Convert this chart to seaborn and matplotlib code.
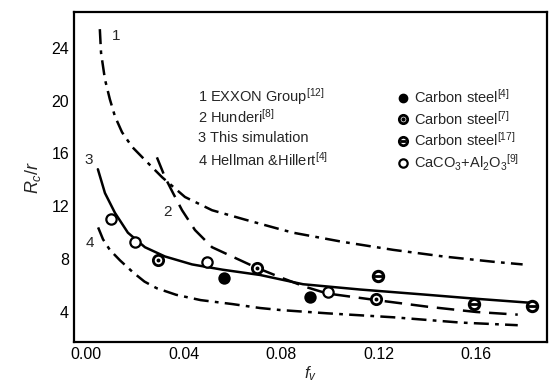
import matplotlib
matplotlib.use("Agg")
import matplotlib.pyplot as plt
import seaborn as sns
import pandas as pd
from matplotlib.lines import Line2D
from matplotlib.legend_handler import HandlerTuple

# ---- data ----
c1_f = [0.0057, 0.0062, 0.0078, 0.0098, 0.0119, 0.0148, 0.0189, 0.0242, 0.0312, 0.0406,
        0.0517, 0.065, 0.0788, 0.0849, 0.1054, 0.126, 0.1465, 0.167, 0.179]
c1_r = [25.4, 23.6, 21.6, 20.1, 18.8, 17.6, 16.5, 15.5, 14.2, 12.7,
        11.7, 11.0, 10.3, 10.0, 9.3, 8.7, 8.2, 7.8, 7.6]

c2_f = [0.0291, 0.0324, 0.0357, 0.0394, 0.0447, 0.0517, 0.0599, 0.0693, 0.080, 0.090,
        0.0989, 0.119, 0.140, 0.160, 0.177]
c2_r = [15.7, 14.2, 13.0, 11.7, 10.2, 8.9, 8.2, 7.4, 6.6, 5.9,
        5.4, 4.9, 4.4, 4.0, 3.8]

c3_f = [0.0049, 0.0078, 0.0119, 0.0172, 0.0242, 0.0324, 0.0435, 0.056, 0.0714, 0.089,
        0.1124, 0.140, 0.160, 0.182]
c3_r = [14.8, 13.0, 11.5, 10.0, 8.9, 8.2, 7.6, 7.2, 6.8, 6.1,
        5.7, 5.3, 5.0, 4.7]

c4_f = [0.005, 0.007, 0.0098, 0.014, 0.0193, 0.024, 0.029, 0.037, 0.047, 0.060, 0.0714,
        0.0796, 0.0989, 0.126, 0.1535, 0.177]
c4_r = [10.4, 9.5, 8.7, 7.9, 7.0, 6.3, 5.8, 5.3, 4.9, 4.6, 4.3,
        4.15, 3.9, 3.6, 3.2, 3.0]

cs4_f = [0.0566, 0.0919]
cs4_r = [6.6, 5.1]
cs7_f = [0.0295, 0.0702, 0.119]
cs7_r = [7.9, 7.3, 5.0]
cs17_f = [0.1198, 0.159, 0.183]
cs17_r = [6.7, 4.6, 4.45]
caco_f = [0.0103, 0.020, 0.0497, 0.0993]
caco_r = [11.0, 9.3, 7.8, 5.5]

curve_labels = ["1 EXXON Group$^{[12]}$", "2 Hunderi$^{[8]}$",
                "3 This simulation", "4 Hellman &Hillert$^{[4]}$"]
point_labels = ["Carbon steel$^{[4]}$", "Carbon steel$^{[7]}$",
                "Carbon steel$^{[17]}$", "CaCO$_3$+Al$_2$O$_3$$^{[9]}$"]
x_ticks = [0.00, 0.04, 0.08, 0.12, 0.16]
y_ticks = [4, 8, 12, 16, 20, 24]

sns.set_theme(style="white")
plt.rcParams['font.family'] = ['Liberation Sans', 'DejaVu Sans']
plt.rcParams['mathtext.fontset'] = 'custom'
plt.rcParams['mathtext.rm'] = 'Liberation Sans'
plt.rcParams['mathtext.it'] = 'Liberation Sans:italic'

fig = plt.figure(figsize=(5.52, 3.86), dpi=100)
ax = fig.add_axes([0.134, 0.114, 0.857, 0.855])

lw = 1.8
dashdot = (6, 2.5, 1.5, 2.5)
for f, r, ls in [(c1_f, c1_r, dashdot), (c2_f, c2_r, (7, 3.5)),
                 (c3_f, c3_r, None), (c4_f, c4_r, dashdot)]:
    df = pd.DataFrame({"f": f, "r": r})
    sns.lineplot(data=df, x="f", y="r", ax=ax, color="black", lw=lw,
                 sort=False, estimator=None)
    line = ax.lines[-1]
    if ls is not None:
        line.set_dashes(ls)

ms = 55
def pts(f, r, **kw):
    sns.scatterplot(x=f, y=r, ax=ax, s=ms, zorder=5, legend=False, **kw)

pts(cs4_f, cs4_r, color="black", edgecolor="black", linewidth=1.5)
pts(cs7_f, cs7_r, color="white", edgecolor="black", linewidth=2.0)
sns.scatterplot(x=cs7_f, y=cs7_r, ax=ax, s=8, color="black", zorder=6, legend=False, linewidth=0)
pts(cs17_f, cs17_r, color="white", edgecolor="black", linewidth=2.2)
sns.scatterplot(x=cs17_f, y=cs17_r, ax=ax, s=30, marker="_", color="black", zorder=6,
                legend=False, linewidth=2.0)
pts(caco_f, caco_r, color="white", edgecolor="black", linewidth=1.6)

ax.set_xlim(-0.0049, 0.189)
ax.set_ylim(1.73, 26.7)
ax.set_xticks(x_ticks)
ax.set_xticklabels([f"{v:.2f}" for v in x_ticks])
ax.set_yticks(y_ticks)
ax.tick_params(direction="in", length=4, width=1.5, labelsize=11.5, colors="black")
for sp in ax.spines.values():
    sp.set_color("black")
    sp.set_linewidth(1.6)

ax.set_xlabel("$f_v$", fontsize=12, labelpad=2)
ax.set_ylabel("$R_c/r$", fontsize=13, labelpad=6)

# curve numbers
ax.text(0.0105, 24.9, "1", fontsize=11, ha="left", va="center")
ax.text(0.0315, 11.6, "2", fontsize=11, ha="left", va="center")
ax.text(-0.0005, 15.5, "3", fontsize=11, ha="left", va="center")
ax.text(0.0000, 9.2, "4", fontsize=11, ha="left", va="center")

# curve description list
for i, lab in enumerate(curve_labels):
    ax.text(0.2615, 0.745 - i * 0.064, lab, transform=ax.transAxes,
            fontsize=10.5, ha="left", va="center")

# marker legend
h4 = Line2D([], [], ls="", marker="o", ms=6, mfc="black", mec="black")
h7 = (Line2D([], [], ls="", marker="o", ms=6, mfc="white", mec="black", mew=2),
      Line2D([], [], ls="", marker="o", ms=2, mfc="black", mec="black"))
h17 = (Line2D([], [], ls="", marker="o", ms=6, mfc="white", mec="black", mew=2),
       Line2D([], [], ls="", marker="_", ms=4, mec="black", mew=2))
hc = Line2D([], [], ls="", marker="o", ms=6, mfc="white", mec="black", mew=1.6)
ax.legend([h4, h7, h17, hc], point_labels, loc="upper left",
          bbox_to_anchor=(0.655, 0.81), frameon=False, fontsize=10.5,
          handlelength=0.8, handletextpad=0.4, labelspacing=0.25,
          handler_map={tuple: HandlerTuple(ndivide=1)})

fig.savefig("out.png", dpi=100)
